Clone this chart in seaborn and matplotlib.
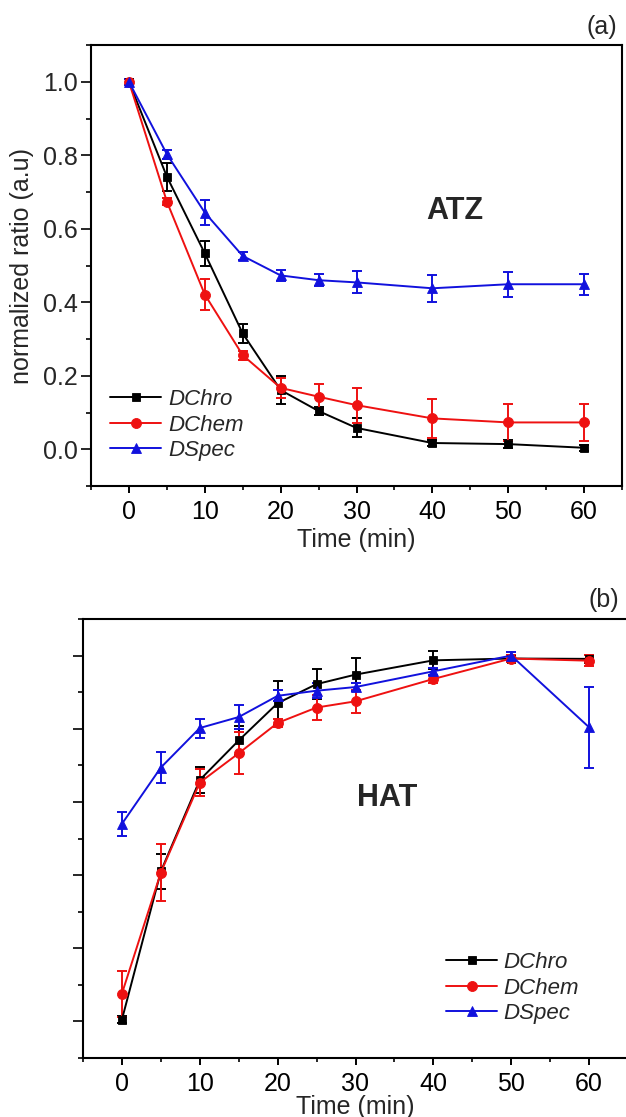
import matplotlib
matplotlib.use("Agg")
import matplotlib.pyplot as plt
from matplotlib.ticker import MultipleLocator, NullFormatter
import seaborn as sns
import pandas as pd

# ---------------- data ----------------
time = [0, 5, 10, 15, 20, 25, 30, 40, 50, 60]
series = ["DChro", "DChem", "DSpec"]

atz_dchro = [1.000, 0.742, 0.533, 0.315, 0.161, 0.104, 0.058, 0.017, 0.014, 0.004]
atz_dchro_err = [0.008, 0.038, 0.034, 0.027, 0.038, 0.010, 0.026, 0.008, 0.010, 0.008]
atz_dchem = [1.000, 0.674, 0.421, 0.256, 0.167, 0.143, 0.120, 0.084, 0.073, 0.073]
atz_dchem_err = [0.008, 0.010, 0.042, 0.012, 0.027, 0.034, 0.048, 0.054, 0.050, 0.050]
atz_dspec = [1.000, 0.803, 0.644, 0.526, 0.473, 0.460, 0.454, 0.438, 0.449, 0.449]
atz_dspec_err = [0.008, 0.012, 0.035, 0.010, 0.015, 0.017, 0.030, 0.036, 0.034, 0.029]

hat_dchro = [0.005, 0.410, 0.660, 0.768, 0.870, 0.922, 0.948, 0.987, 0.992, 0.991]
hat_dchro_err = [0.010, 0.048, 0.036, 0.040, 0.060, 0.041, 0.045, 0.025, 0.010, 0.010]
hat_dchem = [0.076, 0.407, 0.653, 0.733, 0.816, 0.858, 0.875, 0.936, 0.992, 0.986]
hat_dchem_err = [0.063, 0.078, 0.036, 0.058, 0.010, 0.034, 0.032, 0.010, 0.010, 0.015]
hat_dspec = [0.540, 0.694, 0.802, 0.832, 0.890, 0.904, 0.914, 0.957, 1.000, 0.804]
hat_dspec_err = [0.032, 0.043, 0.026, 0.033, 0.015, 0.020, 0.010, 0.010, 0.010, 0.111]

x_ticks = [0, 10, 20, 30, 40, 50, 60]

colors = {"DChro": "#000000", "DChem": "#ee1111", "DSpec": "#1111dd"}
markers = {"DChro": "s", "DChem": "o", "DSpec": "^"}
msizes = {"DChro": 6.2, "DChem": 7.2, "DSpec": 7.2}

sns.set_style("ticks")
plt.rcParams["font.family"] = ["Liberation Sans", "DejaVu Sans"]
plt.rcParams["font.size"] = 18

W, H = 626, 1117
fig = plt.figure(figsize=(W / 100, H / 100), dpi=100)

def px_axes(l, t, r, b):
    return fig.add_axes([l / W, 1 - b / H, (r - l) / W, (b - t) / H])

ax1 = px_axes(91, 45, 622, 486)
ax2 = px_axes(83, 619, 628, 1058)

def draw(ax, vals, errs):
    for name in series:
        v = vals[name]
        e = errs[name]
        ax.errorbar(time, v, yerr=e, fmt="none", ecolor=colors[name],
                    elinewidth=1.4, capsize=3.6, capthick=1.4, zorder=2)
        df = pd.DataFrame({"Time": time, "value": v})
        sns.lineplot(data=df, x="Time", y="value", color=colors[name],
                     marker=markers[name], markersize=msizes[name],
                     markeredgewidth=0.6, markeredgecolor=colors[name],
                     linewidth=1.4, label=name, ax=ax, zorder=3)

draw(ax1,
     {"DChro": atz_dchro, "DChem": atz_dchem, "DSpec": atz_dspec},
     {"DChro": atz_dchro_err, "DChem": atz_dchem_err, "DSpec": atz_dspec_err})
draw(ax2,
     {"DChro": hat_dchro, "DChem": hat_dchem, "DSpec": hat_dspec},
     {"DChro": hat_dchro_err, "DChem": hat_dchem_err, "DSpec": hat_dspec_err})

for ax in (ax1, ax2):
    ax.set_xlim(-5, 65)
    ax.set_ylim(-0.1, 1.1)
    ax.set_xticks(x_ticks)
    ax.xaxis.set_minor_locator(MultipleLocator(5))
    ax.yaxis.set_major_locator(MultipleLocator(0.2))
    ax.yaxis.set_minor_locator(MultipleLocator(0.1))
    for s in ax.spines.values():
        s.set_linewidth(1.5)
        s.set_color("black")
    ax.tick_params(axis="x", which="major", direction="out", length=5, width=1.4,
                   labelsize=18, pad=5, colors="black")
    ax.tick_params(axis="x", which="minor", direction="out", length=3, width=1.4)
    ax.tick_params(axis="y", which="major", direction="out", length=7, width=1.4,
                   labelsize=18, pad=2.5)
    ax.tick_params(axis="y", which="minor", direction="out", length=3.5, width=1.4)
    ax.set_xlabel("Time (min)", fontsize=18, labelpad=3)

ax1.set_ylabel("normalized ratio (a.u)", fontsize=18)
ax1.yaxis.set_label_coords(-0.107, 0.5)
ax1.set_yticks([0.0, 0.2, 0.4, 0.6, 0.8, 1.0])
ax1.set_yticklabels(["0.0", "0.2", "0.4", "0.6", "0.8", "1.0"])
ax2.set_ylabel("")
ax2.yaxis.set_major_formatter(NullFormatter())
ax2.xaxis.set_label_coords(0.5, -0.084)

leg_kw = dict(frameon=False, prop={"style": "italic", "size": 16},
              handlelength=2.3, handletextpad=0.3, labelspacing=0.2,
              borderpad=0, borderaxespad=0)
ax1.legend(loc="center left", bbox_to_anchor=(0.036, 0.138), **leg_kw)
ax2.legend(loc="center left", bbox_to_anchor=(0.666, 0.159), **leg_kw)

ax1.text(42.9, 0.648, "ATZ", fontsize=22, fontweight="bold", ha="center", va="center")
ax2.text(34.1, 0.61, "HAT", fontsize=22, fontweight="bold", ha="center", va="center")

fig.text(602 / W, 1 - 27 / H, "(a)", fontsize=18, ha="center", va="center")
fig.text(589 / W, 1 - 600 / H, "(b)", fontsize=18, ha="left", va="center")

fig.savefig("out.png", dpi=100)
